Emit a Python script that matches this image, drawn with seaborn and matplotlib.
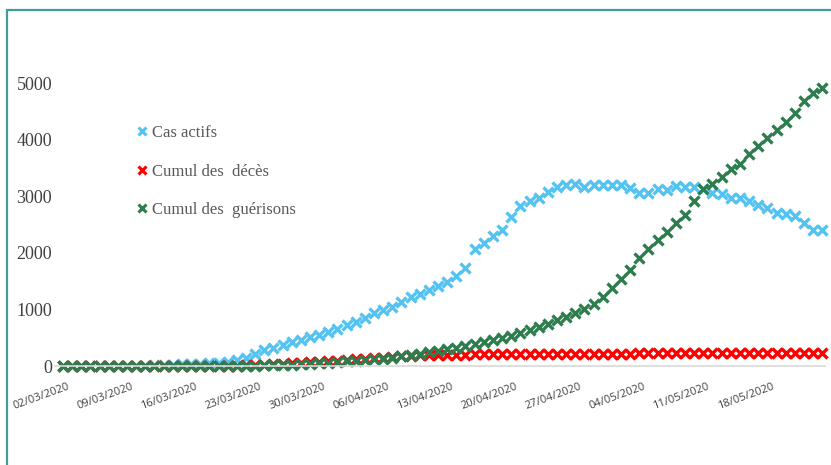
import numpy as np
import pandas as pd
import seaborn as sns
import matplotlib.pyplot as plt
from matplotlib.transforms import ScaledTranslation
from matplotlib.lines import Line2D

# dates 02/03/2020 -> 24/05/2020, one point per day
dates = pd.date_range("2020-03-02", "2020-05-24", freq="D")

cas_actifs = [
    1, 1, 1, 1, 1, 2, 2, 2, 5, 6, 12, 20, 25, 30,
    35, 43, 50, 58, 75, 100, 140, 210, 280, 320, 370, 420, 460, 510,
    550, 600, 660, 720, 775, 850, 930, 990, 1050, 1130, 1215, 1270, 1340, 1410,
    1480, 1585, 1740, 2060, 2165, 2290, 2410, 2625, 2820, 2920, 2960, 3080,
    3170, 3190, 3220, 3170, 3190, 3190, 3200, 3200, 3150, 3065, 3065, 3130,
    3115, 3185, 3170, 3170, 3130, 3065, 3045, 2975, 2975, 2920, 2850, 2800,
    2710, 2690, 2655, 2535, 2410, 2395,
]
cumul_deces = [
    0, 0, 0, 0, 0, 0, 0, 0, 1, 1, 1, 1, 1, 1,
    2, 2, 3, 3, 5, 7, 10, 17, 25, 32, 40, 47, 55, 65,
    75, 85, 95, 105, 115, 128, 140, 150, 160, 170, 180, 188, 195, 198,
    200, 202, 203, 205, 206, 207, 208, 209, 210, 211, 212, 213,
    214, 215, 216, 217, 218, 218, 219, 220, 220, 221, 222, 222,
    223, 223, 224, 224, 225, 225, 226, 226, 227, 227, 228, 228,
    228, 229, 229, 230, 230, 230,
]
cumul_guerisons = [
    0, 0, 0, 0, 0, 0, 0, 0, 0, 1, 1, 1, 1, 1,
    1, 2, 2, 2, 3, 4, 5, 7, 10, 13, 17, 22, 30, 40,
    50, 60, 70, 80, 95, 105, 115, 130, 150, 170, 195, 220, 240, 270,
    295, 325, 350, 395, 420, 455, 490, 530, 580, 635, 690, 740,
    810, 865, 930, 1000, 1090, 1215, 1370, 1530, 1700, 1900, 2060, 2220,
    2375, 2520, 2675, 2920, 3130, 3220, 3345, 3485, 3575, 3750, 3890, 4030,
    4170, 4315, 4470, 4680, 4825, 4910,
]

series_names = ["Cas actifs", "Cumul des  décès", "Cumul des  guérisons"]
couleurs = ["#55C3F1", "#FF0000", "#2E7D4E"]

df = pd.DataFrame({
    "jour": np.arange(len(dates)),
    series_names[0]: cas_actifs,
    series_names[1]: cumul_deces,
    series_names[2]: cumul_guerisons,
}).melt(id_vars="jour", var_name="serie", value_name="valeur")

sns.set_style("white")
serif = ["Liberation Serif", "DejaVu Serif"]

fig = plt.figure(figsize=(8.31, 4.65), dpi=100)
ax = fig.add_axes([55 / 831, (465 - 366) / 465, (825 - 55) / 831, 5800 * 0.0566 / 465])

for nom, coul in zip(series_names, couleurs):
    sub = df[df["serie"] == nom]
    sns.lineplot(data=sub, x="jour", y="valeur", ax=ax, color=coul,
                 linestyle="none", marker="x", markersize=7,
                 markeredgewidth=2.4, markeredgecolor=coul, clip_on=False)

ax.set_xlim(-0.875, 83.3)
ax.set_ylim(0, 5800)
ax.set_xlabel("")
ax.set_ylabel("")

ax.set_yticks([0, 1000, 2000, 3000, 4000, 5000])
ax.set_yticklabels(["0", "1000", "2000", "3000", "4000", "5000"],
                   family=serif, fontsize=13, color="#404040")
ax.tick_params(axis="y", length=0, pad=2)

tick_pos = list(range(0, len(dates), 7))
ax.set_xticks(tick_pos)
ax.set_xticklabels([dates[i].strftime("%d/%m/%Y") for i in tick_pos],
                   family=["Open Sans", "DejaVu Sans"], fontsize=8,
                   color="#404040", rotation=20, ha="right", va="center",
                   rotation_mode="anchor")
ax.tick_params(axis="x", length=0, pad=15)
for lbl in ax.get_xticklabels():
    lbl.set_transform(lbl.get_transform() + ScaledTranslation(6 / 100, 0, fig.dpi_scale_trans))

for s in ["top", "right", "left"]:
    ax.spines[s].set_visible(False)
ax.spines["bottom"].set_color("#d9d9d9")
ax.spines["bottom"].set_linewidth(1.2)
ax.grid(False)

handles = [Line2D([], [], linestyle="none", marker="x", markersize=6,
                  markeredgewidth=2.2, color=c) for c in couleurs]
leg = ax.legend(handles, series_names, loc="upper left",
                bbox_to_anchor=(129 / 831, 1 - 117 / 465),
                bbox_transform=fig.transFigure, frameon=False,
                handlelength=0.6, handletextpad=0.3, labelspacing=1.35,
                borderpad=0, prop={"family": serif, "size": 12})
for t in leg.get_texts():
    t.set_color("#595959")

# cadre teal en haut et a gauche
fig.add_artist(Line2D([7 / 831, 7 / 831], [0, 1 - 10 / 465], transform=fig.transFigure,
                      color="#3E9E98", linewidth=1.6))
fig.add_artist(Line2D([7 / 831, 1], [1 - 10 / 465, 1 - 10 / 465], transform=fig.transFigure,
                      color="#3E9E98", linewidth=1.6))

fig.savefig("out.png", dpi=100)
